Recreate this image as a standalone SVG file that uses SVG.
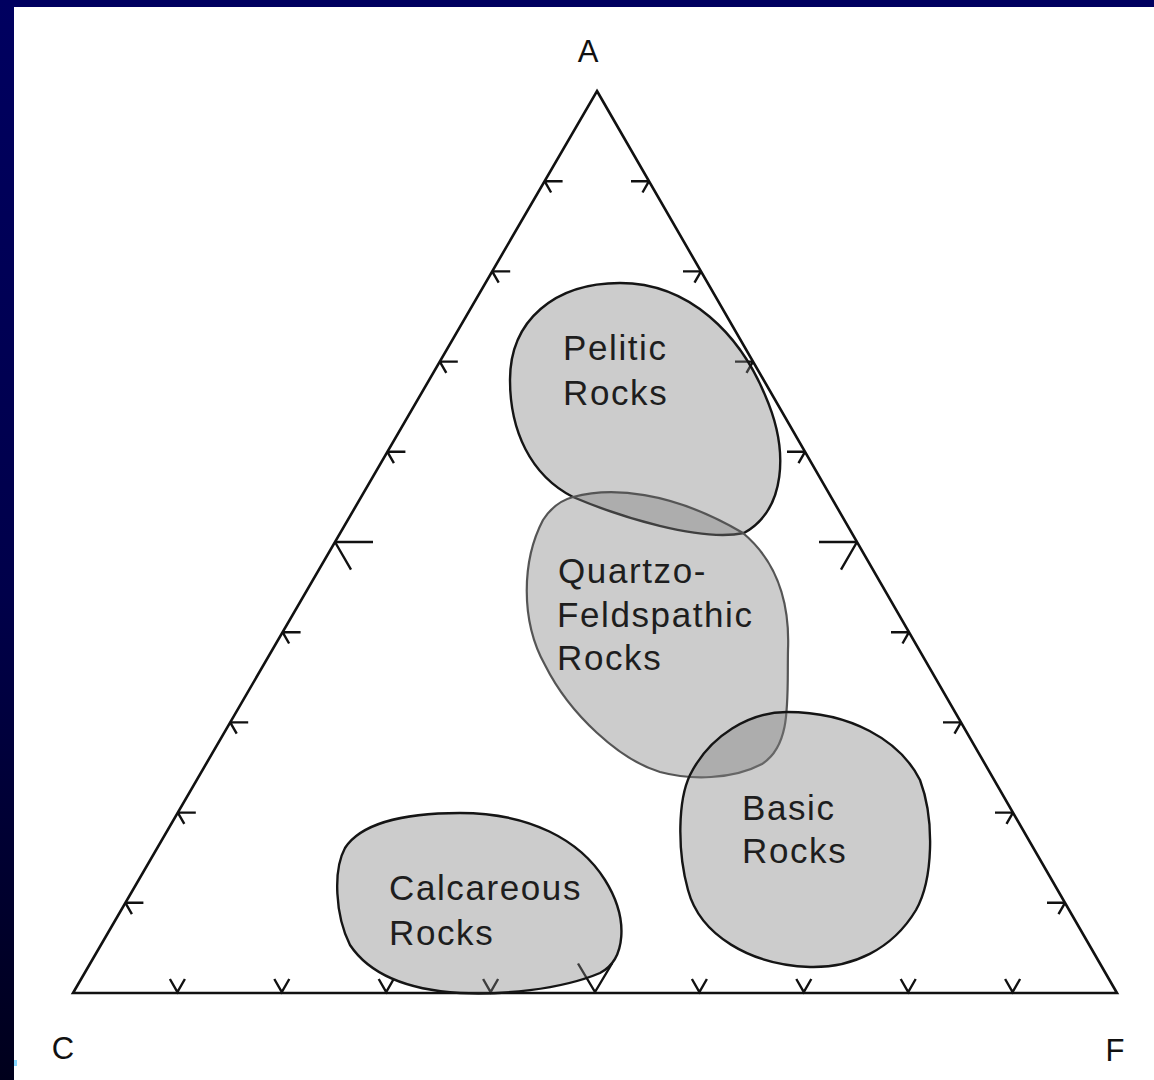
<svg xmlns="http://www.w3.org/2000/svg" width="1154" height="1080" viewBox="0 0 1154 1080">
<defs>
<linearGradient id="bg" x1="0" y1="0" x2="0" y2="1">
<stop offset="0" stop-color="#000060"/>
<stop offset="0.55" stop-color="#00004a"/>
<stop offset="1" stop-color="#00001c"/>
</linearGradient>
</defs>
<style>
.ax{fill:none;stroke:#111;stroke-width:2.6;stroke-linejoin:miter}
.tk{fill:none;stroke:#111;stroke-width:2.4}
.blob{fill:#808080;fill-opacity:0.4;stroke:#151515;stroke-width:2.4}
.qf{stroke:#555;stroke-width:2.2}
.lbl{font-family:"Liberation Sans",Arial,sans-serif;font-size:35px;fill:#1e1e1e;letter-spacing:1.6px}
.ver{font-family:"Liberation Sans",Arial,sans-serif;font-size:31px;fill:#111;text-anchor:middle}
</style>
<rect x="0" y="0" width="1154" height="1080" fill="url(#bg)"/>
<rect x="14" y="7" width="1140" height="1073" fill="#ffffff"/>
<rect x="14" y="1060" width="3" height="6" fill="#88d8ff"/>

<g id="triangle">
<path class="ax" d="M597,91 L1117,993 L73,993 Z"/>
</g>

<g id="ticks" class="tk">
<path d="M125.4,902.8 h18 M125.4,902.8 l6.5,11.3
M177.8,812.6 h18 M177.8,812.6 l6.5,11.3
M230.2,722.4 h18 M230.2,722.4 l6.5,11.3
M282.6,632.2 h18 M282.6,632.2 l6.5,11.3
M335,542 h38 M335,542 l16,27.7
M387.4,451.8 h18 M387.4,451.8 l6.5,11.3
M439.8,361.6 h18 M439.8,361.6 l6.5,11.3
M492.2,271.4 h18 M492.2,271.4 l6.5,11.3
M544.6,181.2 h18 M544.6,181.2 l6.5,11.3"/>
<path d="M1065,902.8 h-18 M1065,902.8 l-6.5,11.3
M1013,812.6 h-18 M1013,812.6 l-6.5,11.3
M961,722.4 h-18 M961,722.4 l-6.5,11.3
M909,632.2 h-18 M909,632.2 l-6.5,11.3
M857,542 h-38 M857,542 l-16,27.7
M805,451.8 h-18 M805,451.8 l-6.5,11.3
M753,361.6 h-18 M753,361.6 l-6.5,11.3
M701,271.4 h-18 M701,271.4 l-6.5,11.3
M649,181.2 h-18 M649,181.2 l-6.5,11.3"/>
<path d="M169.9,979 L177.4,992 L184.9,979
M274.3,979 L281.8,992 L289.3,979
M378.7,979 L386.2,992 L393.7,979
M483.1,979 L490.6,992 L498.1,979
M578,963.5 L595,992 L612,963.5
M691.9,979 L699.4,992 L706.9,979
M796.3,979 L803.8,992 L811.3,979
M900.7,979 L908.2,992 L915.7,979
M1005.1,979 L1012.6,992 L1020.1,979"/>
</g>

<g id="pelitic">
<path class="blob" d="M620,283 C690,283 740,335 765,395 C790,452 785,510 744,533 C700,542 620,517 573,497 C530,475 510,430 510,380 C510,320 555,283 620,283 Z"/>
<text class="lbl" x="563" y="360">Pelitic</text>
<text class="lbl" x="563" y="405">Rocks</text>
</g>

<g id="quartzo-feldspathic">
<path class="blob qf" d="M573,497 C610,487 670,490 743,533 C775,560 790,600 788,650 C787,700 792,745 762,764 C732,780 690,780 660,772 C620,760 570,715 545,665 C520,620 522,560 543,520 C552,506 562,500 573,497 Z"/>
<text class="lbl" x="558" y="583">Quartzo-</text>
<text class="lbl" x="557" y="627">Feldspathic</text>
<text class="lbl" x="557" y="670">Rocks</text>
</g>

<g id="basic">
<path class="blob" d="M787,712 C850,712 900,740 920,780 C935,820 933,880 916,910 C892,950 852,968 810,967 C750,965 700,935 688,890 C677,850 678,800 690,775 C710,735 750,712 787,712 Z"/>
<text class="lbl" x="742" y="820">Basic</text>
<text class="lbl" x="742" y="863">Rocks</text>
</g>

<g id="calcareous">
<path class="blob" d="M460,813 C530,813 580,840 605,880 C630,920 625,960 600,973 C560,990 500,995 460,993 C410,990 370,975 350,945 C335,915 333,870 345,848 C360,825 400,813 460,813 Z"/>
<text class="lbl" x="389" y="900">Calcareous</text>
<text class="lbl" x="389" y="945">Rocks</text>
</g>

<g id="vertex-labels">
<text class="ver" x="588" y="62">A</text>
<text class="ver" x="63" y="1059">C</text>
<text class="ver" x="1115" y="1061">F</text>
</g>
</svg>
